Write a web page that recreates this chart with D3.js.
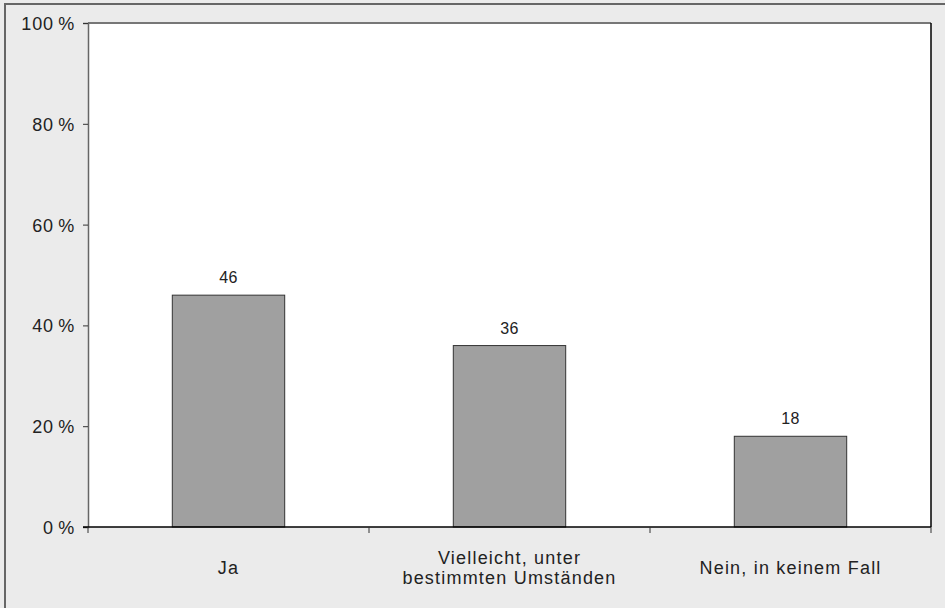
<!DOCTYPE html>
<html>
<head>
<meta charset="utf-8">
<script src="https://cdn.jsdelivr.net/npm/d3@7"></script>
<style>
  body { margin: 0; background: #ebebeb; }
  svg { display: block; }
  text { font-family: "Liberation Sans", Arial, sans-serif; fill: #222; }
</style>
</head>
<body>
<div class="chart"></div>
<script>
  var categories = ['Ja', 'Vielleicht, unter|bestimmten Umständen', 'Nein, in keinem Fall'];
  var values = [46, 36, 18];
  var yTicks = [0, 20, 40, 60, 80, 100];

  var W = 945, H = 608;
  var margin = {top: 23, right: 14, bottom: 81, left: 88};
  var width = W - margin.left - margin.right,
      height = H - margin.top - margin.bottom;

  var svg = d3.select(".chart").append("svg")
    .attr("width", W)
    .attr("height", H);

  // outer frame (only left/top visible)
  svg.append("rect")
    .attr("x", 5).attr("y", 4)
    .attr("width", W + 20).attr("height", H + 20)
    .attr("fill", "#ebebeb")
    .attr("stroke", "#666")
    .attr("stroke-width", 2);

  var g = svg.append("g")
    .attr("transform", "translate(" + margin.left + "," + margin.top + ")");

  var x = d3.scaleBand().domain(categories).range([0, width]).paddingInner(0.6).paddingOuter(0.3);
  var band = d3.scaleBand().domain(categories).range([0, width]);
  var y = d3.scaleLinear().domain([0, 100]).range([height, 0]);

  // plot background
  g.append("rect")
    .attr("width", width).attr("height", height)
    .attr("fill", "#fff");

  // top gray border, right black border
  g.append("line").attr("x1", 0).attr("x2", width).attr("y1", 0).attr("y2", 0)
    .attr("stroke", "#777").attr("stroke-width", 2);
  g.append("line").attr("x1", width).attr("x2", width).attr("y1", 0).attr("y2", height)
    .attr("stroke", "#000").attr("stroke-width", 1.5);

  // bars
  g.selectAll(".bar")
    .data(values)
    .enter().append("rect")
    .attr("x", function(d, i) { return x(categories[i]); })
    .attr("y", function(d) { return y(d); })
    .attr("width", x.bandwidth())
    .attr("height", function(d) { return height - y(d); })
    .attr("fill", "#a0a0a0")
    .attr("stroke", "#333")
    .attr("stroke-width", 1);

  // value labels
  g.selectAll(".val")
    .data(values)
    .enter().append("text")
    .attr("x", function(d, i) { return x(categories[i]) + x.bandwidth() / 2; })
    .attr("y", function(d) { return y(d) - 12; })
    .attr("text-anchor", "middle")
    .style("font-size", "16px")
    .style("letter-spacing", "0.4px")
    .text(function(d) { return d; });

  // Y axis
  var yAxis = d3.axisLeft(y).tickValues(yTicks).tickSize(5).tickPadding(8)
    .tickFormat(function(d) { return d + "\u2009%"; });
  var ya = g.append("g").call(yAxis);
  ya.select(".domain").attr("stroke", "#666").attr("stroke-width", 1.5);
  ya.selectAll(".tick line").attr("stroke", "#333");
  ya.selectAll(".tick text")
    .style("font-size", "18px")
    .style("letter-spacing", "0.8px")
    .attr("dy", "0.36em")
    .attr("fill", "#222");

  // X axis: baseline and ticks at band boundaries
  g.append("line").attr("x1", -5).attr("x2", width).attr("y1", height).attr("y2", height)
    .attr("stroke", "#000").attr("stroke-width", 1.5);
  g.selectAll(".xtick")
    .data(categories)
    .enter().append("line")
    .attr("x1", function(d) { return band(d) + band.bandwidth(); })
    .attr("x2", function(d) { return band(d) + band.bandwidth(); })
    .attr("y1", height).attr("y2", height + 6)
    .attr("stroke", "#333");
  g.append("line").attr("x1", 0).attr("x2", 0).attr("y1", height).attr("y2", height + 6)
    .attr("stroke", "#333");

  // category labels
  g.selectAll(".cat")
    .data(categories)
    .enter().append("text")
    .attr("text-anchor", "middle")
    .style("font-size", "18px")
    .style("letter-spacing", "1.2px")
    .attr("transform", function(d) {
      return "translate(" + (x(d) + x.bandwidth() / 2) + "," + height + ")";
    })
    .each(function(d) {
      var lines = d.split("|");
      var t = d3.select(this);
      var y0 = lines.length === 1 ? 47 : 37;
      lines.forEach(function(l, k) {
        t.append("tspan").attr("x", 0).attr("y", y0 + k * 20).text(l);
      });
    });
</script>
</body>
</html>
